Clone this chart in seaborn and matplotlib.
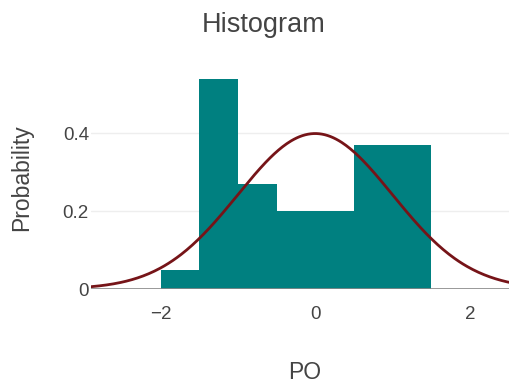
import numpy as np
import pandas as pd
import seaborn as sns
import matplotlib
matplotlib.use("Agg")
import matplotlib.pyplot as plt

# Data
bin_edges = [-2.0, -1.5, -1.0, -0.5, 0.5, 1.5]
bin_heights = [0.05, 0.54, 0.27, 0.20, 0.37]
curve_x = np.linspace(-2.9, 2.55, 300)
curve_y = np.exp(-curve_x ** 2 / 2) / np.sqrt(2 * np.pi)  # standard normal pdf
y_ticks = [0, 0.2, 0.4]
y_tick_labels = ["0", "0.2", "0.4"]
x_ticks = [-2, 0, 2]
x_tick_labels = ["\u22122", "0", "2"]

sns.set_theme(style="white")
plt.rcParams["font.family"] = ["Liberation Sans", "DejaVu Sans"]

edges = np.array(bin_edges)
widths = np.diff(edges)
centers = (edges[:-1] + edges[1:]) / 2
df = pd.DataFrame({"PO": centers, "w": np.array(bin_heights) * widths})

fig = plt.figure(figsize=(5.10, 3.87), dpi=100)
ax = fig.add_axes([0.1784, 0.2532, 0.8216, 0.574])

ax.axhline(0.2, color="#eeeeee", lw=1, zorder=0)
ax.axhline(0.4, color="#eeeeee", lw=1, zorder=0)

sns.histplot(data=df, x="PO", weights="w", bins=list(bin_edges), stat="density",
             color="#008080", alpha=1, edgecolor="none", linewidth=0, ax=ax, zorder=2)
ax.axhline(0, color="#888888", lw=1.2, zorder=3)
sns.lineplot(x=curve_x, y=curve_y, color="#761418", lw=2, ax=ax, zorder=4)

ax.set_xlim(-2.9, 2.52)
ax.set_ylim(0, 0.57)
ax.set_yticks(y_ticks)
ax.set_yticklabels(y_tick_labels)
ax.set_xticks(x_ticks)
ax.set_xticklabels(x_tick_labels)
ax.tick_params(axis="both", length=0, labelsize=13.5, colors="#444444")
ax.tick_params(axis="x", pad=12)
ax.tick_params(axis="y", pad=1.5)
for s in ax.spines.values():
    s.set_visible(False)
ax.set_xlabel("PO", fontsize=16.5, color="#444444")
ax.xaxis.set_label_coords(0.51, -0.375)
ax.xaxis.label.set_va("center")
ax.set_ylabel("Probability", fontsize=16.5, color="#444444", labelpad=21)
fig.text(0.516, 0.917, "Histogram", ha="center", va="baseline", fontsize=19.5, color="#444444")

fig.savefig("out.png", dpi=100)
